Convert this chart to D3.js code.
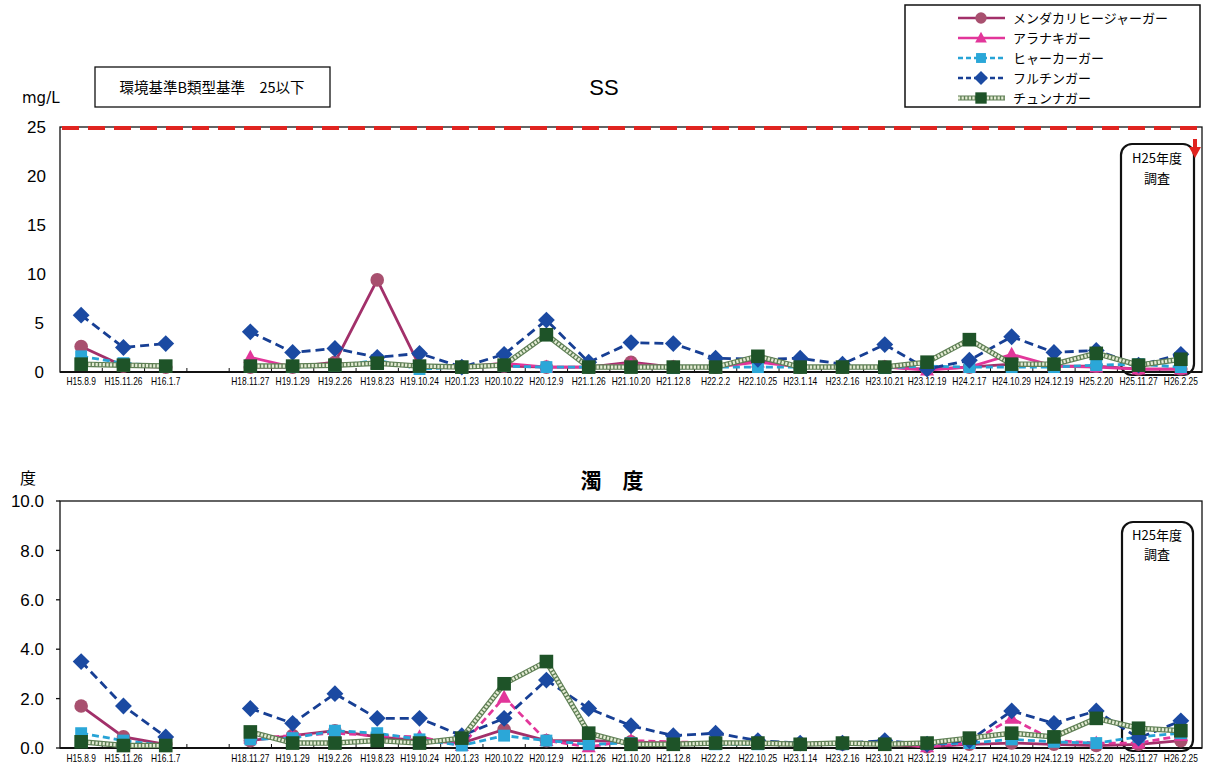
<!DOCTYPE html>
<html><head><meta charset="utf-8">
<script src="https://cdn.jsdelivr.net/npm/d3@7"></script>
<style>body{margin:0;background:#fff}svg{display:block}</style>
</head><body>
<svg id="c" width="1206" height="765"></svg>
<script>
// ---------- data ----------
const categories = ["H15.8.9","H15.11.26","H16.1.7","","H18.11.27","H19.1.29","H19.2.26","H19.8.23","H19.10.24","H20.1.23","H20.10.22","H20.12.9","H21.1.26","H21.10.20","H21.12.8","H22.2.2","H22.10.25","H23.1.14","H23.2.16","H23.10.21","H23.12.19","H24.2.17","H24.10.29","H24.12.19","H25.2.20","H25.11.27","H26.2.25"];
const seriesNames = ["メンダカリヒージャーガー","アラナキガー","ヒャーカーガー","フルチンガー","チュンナガー"];
// SS (mg/L)
const ssMendakari = [2.6,0.6,0.5,null,0.5,0.5,1.0,9.4,0.6,0.5,0.6,0.5,0.5,1.0,0.5,0.5,1.2,0.5,0.5,0.5,0.3,0.5,0.8,0.6,0.6,0.3,0.3];
const ssAranaki   = [null,null,null,null,1.5,0.5,0.8,0.9,0.5,0.5,0.9,0.5,0.5,0.8,0.5,0.5,1.0,0.5,0.5,0.5,0.2,0.5,1.8,0.6,0.5,0.3,0.3];
const ssHyaka     = [1.6,0.9,0.6,null,0.6,0.5,0.6,1.2,0.3,0.5,0.6,0.5,0.5,0.5,0.4,0.5,0.5,0.5,0.5,0.4,0.6,0.5,0.5,0.5,0.7,0.8,0.5];
const ssFuruchin  = [5.8,2.5,2.9,null,4.1,2.0,2.4,1.5,1.9,0.5,1.8,5.3,1.0,3.0,2.9,1.4,1.3,1.4,0.8,2.8,0.3,1.2,3.6,2.0,2.2,0.7,1.8];
const ssChunna    = [0.8,0.7,0.6,null,0.6,0.6,0.7,0.9,0.6,0.5,0.7,3.8,0.5,0.5,0.5,0.5,1.6,0.5,0.5,0.5,1.0,3.3,0.8,0.8,1.9,0.7,1.3];
// 濁度
const tbMendakari = [1.7,0.45,0.15,null,0.3,0.5,0.7,0.45,0.3,0.2,0.75,0.3,0.3,0.25,0.2,0.2,0.2,0.15,0.15,0.15,0.05,0.15,0.2,0.15,0.1,0.15,0.3];
const tbAranaki   = [null,null,null,null,0.4,0.5,0.6,0.5,0.45,0.1,2.05,0.3,0.05,0.3,0.25,0.2,0.2,0.15,0.15,0.2,0.05,0.2,1.2,0.3,0.2,0.2,0.5];
const tbHyaka     = [0.6,0.3,0.1,null,0.35,0.4,0.7,0.6,0.35,0.1,0.5,0.3,0.15,0.2,0.15,0.15,0.15,0.15,0.15,0.15,0.15,0.2,0.35,0.25,0.2,0.45,0.6];
const tbFuruchin  = [3.5,1.7,0.45,null,1.6,1.0,2.2,1.2,1.2,0.5,1.2,2.75,1.6,0.9,0.5,0.6,0.3,0.2,0.2,0.3,0.15,0.3,1.5,1.0,1.5,0.4,1.1];
const tbChunna    = [0.25,0.1,0.1,null,0.65,0.2,0.2,0.3,0.2,0.4,2.6,3.5,0.6,0.15,0.15,0.2,0.2,0.15,0.2,0.15,0.2,0.4,0.6,0.45,1.2,0.8,0.7];
const ssTicks = [0,5,10,15,20,25];
const tbTicks = [0,2,4,6,8,10];
const ssStandard = 25;

// ---------- styles ----------
const styles = [
  {color:"#a2306a", fill:"#a8506f", dash:null, marker:"circle"},
  {color:"#e2369a", fill:"#e2369a", dash:null, marker:"triangle"},
  {color:"#27a3d6", fill:"#2ba7d8", dash:"7,4", marker:"square"},
  {color:"#173f94", fill:"#1b4aa2", dash:"9,5", marker:"diamond"},
  {color:"#1f5a2a", fill:"#1e5328", dash:null, marker:"bigsquare", chain:true}
];

const svg = d3.select("#c");
const JP = "'Noto Sans CJK JP','Noto Sans',sans-serif";
const NUM = "'Liberation Sans',Arial,sans-serif";

const x = d3.scaleBand().domain(categories.map((c,i)=>i)).range([60,1202]);
const cx = i => x(i) + x.bandwidth()/2;

function marker(g, type, px, py, st, big){
  const s = big ? 1.08 : 0.9;
  if(type==="circle") g.append("circle").attr("cx",px).attr("cy",py).attr("r",6.3*s).attr("fill",st.fill);
  else if(type==="triangle") g.append("path").attr("d",`M${px},${py-7*s}L${px+6.5*s},${py+5*s}L${px-6.5*s},${py+5*s}Z`).attr("fill",st.fill);
  else if(type==="square") g.append("rect").attr("x",px-5.5*s).attr("y",py-5.5*s).attr("width",11*s).attr("height",11*s).attr("fill",st.fill);
  else if(type==="diamond") g.append("path").attr("d",`M${px},${py-7.8*s}L${px+7.8*s},${py}L${px},${py+7.8*s}L${px-7.8*s},${py}Z`).attr("fill",st.fill);
  else if(type==="bigsquare") g.append("rect").attr("x",px-6.3*s).attr("y",py-6.3*s).attr("width",12.6*s).attr("height",12.6*s).attr("fill",st.fill);
}

function chainStroke(g, sel){
  return sel;
}

function drawSeries(g, data, y, st, dashOverride){
  const line = d3.line().defined(d=>d!=null).x((d,i)=>cx(i)).y(d=>y(d));
  if(st.chain){
    g.append("path").datum(data).attr("d",line).attr("fill","none").attr("stroke","#5f7f55").attr("stroke-width",5.5);
    g.append("path").datum(data).attr("d",line).attr("fill","none").attr("stroke","#e4ecd4").attr("stroke-width",3.2).attr("stroke-dasharray","2.2,1.4");
  } else {
    const dash = dashOverride!==undefined ? dashOverride : st.dash;
    g.append("path").datum(data).attr("d",line).attr("fill","none").attr("stroke",st.color).attr("stroke-width",2.8).attr("stroke-dasharray",dash);
  }
  data.forEach((d,i)=>{ if(d!=null) marker(g, st.marker, cx(i), y(d), st, true); });
}

function roundBox(g, x0, y0, x1, y1){
  g.append("rect").attr("x",x0).attr("y",y0).attr("width",x1-x0).attr("height",y1-y0)
   .attr("rx",11).attr("fill","none").attr("stroke","#111").attr("stroke-width",2.2);
}

// ================= SS chart =================
const yS = d3.scaleLinear().domain([0,25]).range([372,127]);
const gS = svg.append("g");
ssTicks.forEach(t=>{
  gS.append("text").attr("x",t<10?44:46).attr("y",yS(t)).attr("dy","0.36em").attr("text-anchor","end")
    .attr("font-family",NUM).attr("font-size",17).text(t);
});
gS.append("text").attr("x",22).attr("y",103).attr("font-family","'DejaVu Sans',sans-serif").attr("font-size",15).text("mg/L");
gS.append("text").attr("x",604).attr("y",95).attr("text-anchor","middle").attr("font-family",NUM).attr("font-size",22).text("SS");
gS.append("rect").attr("x",95).attr("y",67).attr("width",235).attr("height",40).attr("fill","none").attr("stroke","#111").attr("stroke-width",1.3);
gS.append("text").attr("x",212).attr("y",93).attr("text-anchor","middle").attr("font-family",JP).attr("font-size",14.5).text("環境基準B類型基準　25以下");
gS.append("rect").attr("x",60).attr("y",yS(25)).attr("width",1142).attr("height",yS(0)-yS(25)).attr("fill","none").attr("stroke","#111").attr("stroke-width",1.3);
gS.append("line").attr("x1",60).attr("x2",1202).attr("y1",yS(0)).attr("y2",yS(0)).attr("stroke","#111").attr("stroke-width",2);
categories.forEach((c,i)=>{ if(i>0) gS.append("line").attr("x1",x(i)).attr("x2",x(i)).attr("y1",yS(0)).attr("y2",yS(0)-4).attr("stroke","#111"); });
categories.forEach((c,i)=>{
  gS.append("text").attr("transform",`translate(${cx(i)},385) scale(0.8,1)`).attr("text-anchor","middle")
   .attr("font-family",NUM).attr("font-size",10.5).text(c);
});
roundBox(gS, 1121, 144, 1194, 375);
gS.append("text").attr("x",1157).attr("y",163).attr("text-anchor","middle").attr("font-family",JP).attr("font-size",13).text("H25年度");
gS.append("text").attr("x",1157).attr("y",183).attr("text-anchor","middle").attr("font-family",JP).attr("font-size",13).text("調査");
[ssMendakari, ssAranaki, ssHyaka, ssFuruchin, ssChunna].forEach((d,k)=>drawSeries(gS, d, yS, styles[k]));
gS.append("path").attr("d",`M62,${yS(ssStandard)+1}H1195V${yS(ssStandard)+22}`).attr("fill","none")
  .attr("stroke","#e02420").attr("stroke-width",4).attr("stroke-dasharray","17,9");
gS.append("path").attr("d",`M1189,${yS(ssStandard)+20}L1201,${yS(ssStandard)+20}L1195,${yS(ssStandard)+31}Z`).attr("fill","#e02420");

// legend
const gL = svg.append("g");
gL.append("rect").attr("x",905).attr("y",5).attr("width",295).attr("height",102).attr("fill","#fff").attr("stroke","#111").attr("stroke-width",1.5);
seriesNames.forEach((n,k)=>{
  const yy = 18 + k*20;
  const st = styles[k];
  if(st.chain){
    gL.append("line").attr("x1",958).attr("x2",1005).attr("y1",yy).attr("y2",yy).attr("stroke","#5f7f55").attr("stroke-width",5);
    gL.append("line").attr("x1",958).attr("x2",1005).attr("y1",yy).attr("y2",yy).attr("stroke","#e4ecd4").attr("stroke-width",2.8).attr("stroke-dasharray","2.2,1.4");
  } else {
    gL.append("line").attr("x1",958).attr("x2",1005).attr("y1",yy).attr("y2",yy).attr("stroke",st.color).attr("stroke-width",2.6).attr("stroke-dasharray",st.dash?"5,3":null);
  }
  marker(gL, st.marker, 981, yy, st, false);
  gL.append("text").attr("x",1013).attr("y",yy).attr("dy","0.36em").attr("font-family",JP).attr("font-size",13).text(n);
});

// ================= 濁度 chart =================
const yT = d3.scaleLinear().domain([0,10]).range([748,501]);
const gT = svg.append("g");
tbTicks.forEach(t=>{
  gT.append("text").attr("x",44).attr("y",yT(t)).attr("dy","0.36em").attr("text-anchor","end")
    .attr("font-family",NUM).attr("font-size",17).text(t.toFixed(1));
  gT.append("line").attr("x1",56).attr("x2",60).attr("y1",yT(t)).attr("y2",yT(t)).attr("stroke","#111").attr("stroke-width",1.3);
});
gT.append("text").attr("x",20).attr("y",484).attr("font-family",JP).attr("font-size",16).text("度");
gT.append("text").attr("x",612).attr("y",488).attr("text-anchor","middle").attr("font-family",JP).attr("font-size",21).attr("font-weight","bold").text("濁　度");
gT.append("rect").attr("x",60).attr("y",yT(10)).attr("width",1142).attr("height",yT(0)-yT(10)).attr("fill","none").attr("stroke","#111").attr("stroke-width",1.3);
gT.append("line").attr("x1",60).attr("x2",1202).attr("y1",yT(0)).attr("y2",yT(0)).attr("stroke","#111").attr("stroke-width",2);
categories.forEach((c,i)=>{ if(i>0) gT.append("line").attr("x1",x(i)).attr("x2",x(i)).attr("y1",yT(0)).attr("y2",yT(0)-4).attr("stroke","#111"); });
categories.forEach((c,i)=>{
  gT.append("text").attr("transform",`translate(${cx(i)},762) scale(0.8,1)`).attr("text-anchor","middle")
   .attr("font-family",NUM).attr("font-size",10.5).text(c);
});
roundBox(gT, 1122, 522, 1193, 751);
gT.append("text").attr("x",1157).attr("y",540).attr("text-anchor","middle").attr("font-family",JP).attr("font-size",13).text("H25年度");
gT.append("text").attr("x",1157).attr("y",559).attr("text-anchor","middle").attr("font-family",JP).attr("font-size",13).text("調査");
[tbMendakari, tbAranaki, tbHyaka, tbFuruchin, tbChunna].forEach((d,k)=>drawSeries(gT, d, yT, styles[k], k===1?"7,4":undefined));
</script>
</body></html>
